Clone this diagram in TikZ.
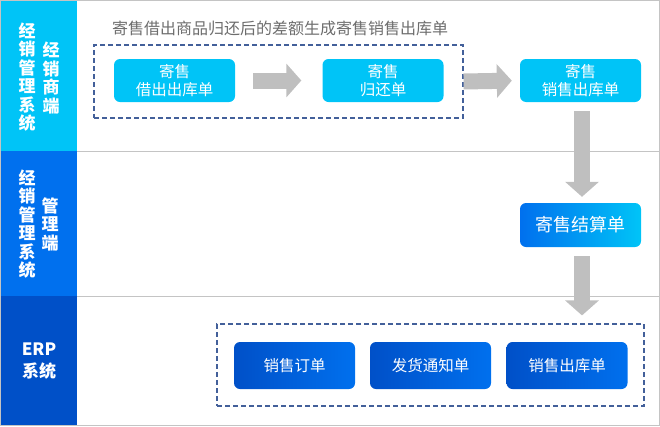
\documentclass[tikz,border=0pt]{standalone}
\usepackage{fontspec}
\setmainfont{Noto Sans CJK SC}
\usetikzlibrary{arrows.meta}
\definecolor{cyanband}{HTML}{00C4F7}
\definecolor{midband}{HTML}{0070EE}
\definecolor{erpband}{HTML}{0050C8}
\definecolor{dashblue}{HTML}{43609A}
\definecolor{arrowgray}{HTML}{BFBFBF}
\definecolor{linegray}{HTML}{C4C4C4}
\definecolor{titlegray}{HTML}{6D6D6D}
\begin{document}
\begin{tikzpicture}[x=1pt,y=-1pt]
\tikzstyle{vlab}=[align=center,text=white,inner sep=0,font=\bfseries\fontsize{17}{18.5}\selectfont]
\tikzstyle{doc}=[rounded corners=6pt,inner sep=0,text=white,align=center,minimum width=121pt,font=\fontsize{15.5}{18}\selectfont]
\tikzstyle{jsdoc}=[doc,fill=cyanband,minimum height=43pt]
\tikzstyle{erpdoc}=[doc,left color=erpband,right color=midband,minimum height=47pt]
\tikzstyle{dbox}=[draw=dashblue,line width=1.2pt,dash pattern=on 5pt off 3pt,inner sep=0]
\tikzstyle{garrow}=[draw=arrowgray,line width=16pt,-{Triangle[width=33pt,length=15pt]}]
\useasboundingbox (0,0) rectangle (660,426);
% lanes
\fill[cyanband] (0,0) rectangle (77,151);
\fill[midband] (0,151) rectangle (77,296);
\fill[erpband] (0,296) rectangle (77,426);
\draw[linegray] (77,151) -- (660,151);
\draw[linegray] (77,296) -- (660,296);
\draw[linegray] (0.5,0.5) rectangle (659.5,425.5);
\node[vlab] (sys1) at (27,77) {经\\销\\管\\理\\系\\统};
\node[vlab] (dealer) at (51,78) {经\\销\\商\\端};
\node[vlab] (sys2) at (27,224) {经\\销\\管\\理\\系\\统};
\node[vlab] (admin) at (50,224) {管\\理\\端};
\node[vlab,font=\bfseries\fontsize{17}{22}\selectfont] (erp) at (39,361) {ERP\\系统};
% dealer side
\node[anchor=west,inner sep=0,text=titlegray,font=\fontsize{16}{18}\selectfont] (note) at (112,28) {寄售借出商品归还后的差额生成寄售销售出库单};
\node[dbox,minimum width=369pt,minimum height=73pt] (lend) at (278.5,81.5) {};
\node[jsdoc] (out) at (174.5,80.5) {寄售\\借出出库单};
\node[jsdoc] (ret) at (383,80.5) {寄售\\归还单};
\node[jsdoc] (sale) at (580.5,80.5) {寄售\\销售出库单};
% admin side
\node[doc,left color=midband,right color=cyanband,minimum height=44pt,font=\fontsize{18}{20}\selectfont] (settle) at (580.5,225) {寄售结算单};
% erp side
\node[dbox,minimum width=427pt,minimum height=82pt] (erpbox) at (430.5,365) {};
\node[erpdoc] (order) at (294.5,365.5) {销售订单};
\node[erpdoc] (ship) at (430.5,365.5) {发货通知单};
\node[erpdoc] (stock) at (567,365.5) {销售出库单};
% arrows
\draw[garrow,shorten <=18pt,shorten >=21pt] (out) -- (ret);
\draw[garrow,shorten >=8pt] (lend.east) -- (sale.west);
\draw[garrow,shorten <=9pt,shorten >=6pt] ([xshift=1.5pt]sale.south) -- ([xshift=1.5pt]settle.north);
\draw[garrow,shorten <=9pt,shorten >=8pt] ([xshift=1.5pt]settle.south) -- ([xshift=1.5pt]settle.south |- erpbox.north);
\end{tikzpicture}
\end{document}
